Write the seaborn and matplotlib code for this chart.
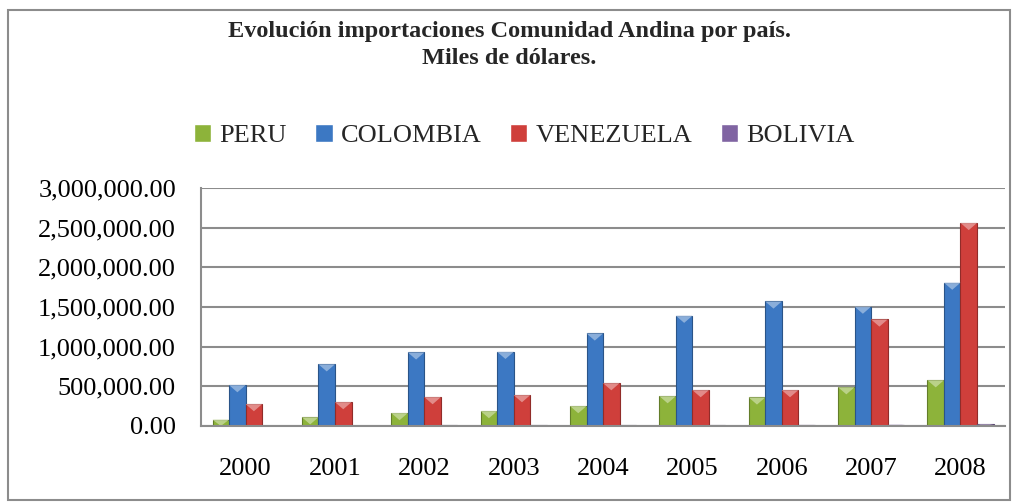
# importing libraries
import numpy as np
import pandas as pd
import seaborn as sns
import matplotlib.pyplot as plt
from matplotlib.patches import Rectangle, Polygon
from matplotlib.ticker import FuncFormatter

# data - miles de dolares
years = ['2000', '2001', '2002', '2003', '2004', '2005', '2006', '2007', '2008']
countries = ['PERU', 'COLOMBIA', 'VENEZUELA', 'BOLIVIA']
peru = [80000, 110000, 163000, 188000, 251000, 376000, 360000, 489000, 577000]
colombia = [515000, 778000, 928000, 935000, 1167000, 1390000, 1570000, 1505000, 1807000]
venezuela = [276000, 301000, 364000, 389000, 540000, 452000, 452000, 1343000, 2560000]
bolivia = [5000, 6000, 7000, 9000, 10000, 12000, 14000, 18000, 22000]
colors = ['#8db33a', '#3c78c3', '#cf3f3b', '#8064a2']

df = pd.DataFrame({'year': years * 4,
                   'country': np.repeat(countries, len(years)),
                   'value': peru + colombia + venezuela + bolivia})

sns.set_style('white')
plt.rcParams['font.family'] = ['Liberation Serif', 'DejaVu Serif']

fig = plt.figure(figsize=(10.18, 5.03), dpi=100)
ax = fig.add_axes([0.1974, 0.1531, 0.79, 0.473])

sns.barplot(data=df, x='year', y='value', hue='country', palette=colors,
            width=0.74, gap=0, saturation=1, ax=ax, legend=True)

# darker edges + light bevel on top of every bar
for cont, col in zip(ax.containers, colors):
    rgb = plt.matplotlib.colors.to_rgb(col)
    dark = tuple(c * 0.7 for c in rgb)
    light = tuple(min(1, c * 0.5 + 0.5) for c in rgb)
    for p in cont.patches:
        p.set_edgecolor(dark)
        p.set_linewidth(0.8)
        x0, w, h = p.get_x(), p.get_width(), p.get_height()
        tri = min(90000, h)
        ax.add_patch(Polygon([(x0, h), (x0 + w, h), (x0 + w / 2, h - tri)],
                             closed=True, facecolor=light, edgecolor='none', alpha=0.8))

ax.set_ylim(0, 3000000)
ax.set_yticks(np.arange(0, 3000001, 500000))
ax.yaxis.set_major_formatter(FuncFormatter(lambda v, _: f'{v:,.2f}'))
ax.grid(axis='y', color='#8c8c8c', linewidth=1.5)
ax.set_axisbelow(True)
ax.set_xlabel('')
ax.set_ylabel('')
for s in ['top', 'right']:
    ax.spines[s].set_visible(False)
for s in ['left', 'bottom']:
    ax.spines[s].set_color('#8c8c8c')
    ax.spines[s].set_linewidth(1.5)
ax.tick_params(axis='both', length=0, labelsize=19, colors='black')
ax.tick_params(axis='y', pad=18)
ax.tick_params(axis='x', pad=23)

# legend on top
handles, labels = ax.get_legend_handles_labels()
ax.legend_.remove()
fig.legend(handles, labels, loc='center', bbox_to_anchor=(0.515, 0.73), ncol=4,
           frameon=False, fontsize=19, handlelength=0.65, handleheight=0.65,
           handletextpad=0.3, columnspacing=1.1)

fig.text(0.5, 0.91, 'Evolución importaciones Comunidad Andina por país.\nMiles de dólares.',
         ha='center', va='center', fontsize=17.5, fontweight='bold', linespacing=1.35)

# outer border
fig.patches.append(Rectangle((0.008, 0.006), 0.984, 0.974, transform=fig.transFigure,
                             fill=False, edgecolor='#8c8c8c', linewidth=1.5))

fig.savefig('out.png', dpi=100)
